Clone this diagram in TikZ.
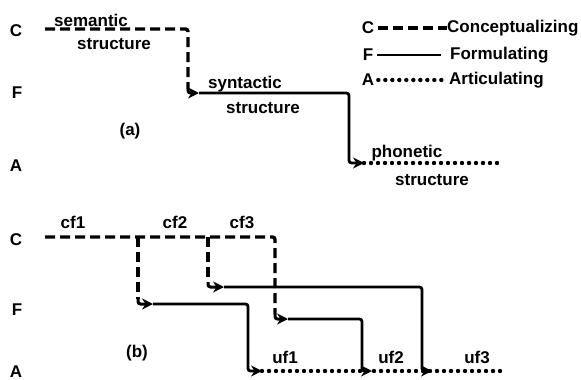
\documentclass[tikz,border=0pt]{standalone}
\usepackage{fontspec}
\setmainfont{Liberation Sans}
\usetikzlibrary{arrows.meta}
\begin{document}
\begin{tikzpicture}[x=1pt,y=-1pt,
  lbl/.style={font=\bfseries\fontsize{17}{17}\selectfont, inner sep=0pt},
  conc/.style={line width=3.4pt, dash pattern=on 10pt off 5pt},
  form/.style={line width=2.8pt},
  artic/.style={line width=4.4pt, line cap=round, dash pattern=on 0pt off 7pt},
  tip/.style={-{Stealth[length=11pt,width=11pt]}},
  rc/.style={rounded corners=2.5pt}
]
\useasboundingbox (0,0) rectangle (581,380);

% ---------- part (a) ----------
\node[lbl] (aC) at (16,31) {C};
\node[lbl] (aF) at (17,93) {F};
\node[lbl] (aA) at (16,166) {A};

\coordinate (a0) at (45,29);
\coordinate (a1) at (188,89);
\coordinate (a2) at (199,93);
\coordinate (a3) at (349,159);
\coordinate (a4) at (364,163);
\coordinate (a5) at (500,163);

\draw[conc, rc] (a0) -| (a1);
\draw[line width=3pt, tip, rc] (a1) |- (a2);
\draw[form, rc] (a2) -| (a3);
\draw[line width=2.8pt, tip, rc] (a3) |- (a4);
\draw[artic] (a4) -- (a5);

\node[lbl] (sem) at (91,20) {semantic};
\node[lbl] (sems) at (114,44) {structure};
\node[lbl] (syn) at (245,84) {syntactic};
\node[lbl] (syns) at (263,108) {structure};
\node[lbl] (pho) at (407,153) {phonetic};
\node[lbl] (phos) at (432,180) {structure};
\node[lbl] (la) at (130,131) {(a)};

% ---------- legend ----------
\node[lbl] (lC) at (368,28) {C};
\node[lbl] (lF) at (368,55) {F};
\node[lbl] (lA) at (368,80) {A};
\node[lbl, anchor=west] (tC) at (447,28) {Conceptualizing};
\node[lbl, anchor=west] (tF) at (450,55) {Formulating};
\node[lbl, anchor=west] (tA) at (449,80) {Articulating};
\draw[conc] ([xshift=4pt]lC.east) -- (tC.west);
\draw[form] ([xshift=4pt]lF.east) -- ([xshift=-9pt]tF.west);
\draw[artic] ([xshift=4pt]lA.east) -- ([xshift=-3pt]tA.west);

% ---------- part (b) ----------
\node[lbl] (bC) at (16,240) {C};
\node[lbl] (bF) at (17,310) {F};
\node[lbl] (bA) at (16,372) {A};

\coordinate (b0) at (45,237);
\coordinate (c1) at (138,237);
\coordinate (c2) at (208,237);
\coordinate (d1) at (138,299);
\coordinate (e1) at (153,304);
\coordinate (d2) at (208,282);
\coordinate (e2) at (224,287);
\coordinate (d3) at (275,314);
\coordinate (e3) at (288,319);
\coordinate (f1) at (248,366);
\coordinate (g1) at (262,371);
\coordinate (f2) at (422,366);
\coordinate (g2) at (432,371);
\coordinate (f3) at (362,366);
\coordinate (g3) at (372,371);
\coordinate (h) at (507,371);

\draw[conc, rc] (b0) -| (d3);
\draw[conc] (c1) -- (d1);
\draw[conc] (c2) -- (d2);
\draw[line width=3pt, tip, rc] (d1) |- (e1);
\draw[line width=3pt, tip, rc] (d2) |- (e2);
\draw[line width=3pt, tip, rc] (d3) |- (e3);

\draw[form, rc] (e1) -| (f1);
\draw[form, rc] (e2) -| (f2);
\draw[form, rc] (e3) -| (f3);
\draw[line width=2.8pt, tip, rc] (f1) |- (g1);
\draw[line width=2.8pt, tip, rc] (f2) |- (g2);
\draw[line width=2.8pt, tip, rc] (f3) |- (g3);
\draw[artic] (g1) -- (h);

\node[lbl] (cf1) at (73,222) {cf1};
\node[lbl] (cf2) at (175,222) {cf2};
\node[lbl] (cf3) at (242,222) {cf3};
\node[lbl] (uf1) at (285,357) {uf1};
\node[lbl] (uf2) at (391,357) {uf2};
\node[lbl] (uf3) at (477,357) {uf3};
\node[lbl] (lb) at (137,353) {(b)};
\end{tikzpicture}
\end{document}
